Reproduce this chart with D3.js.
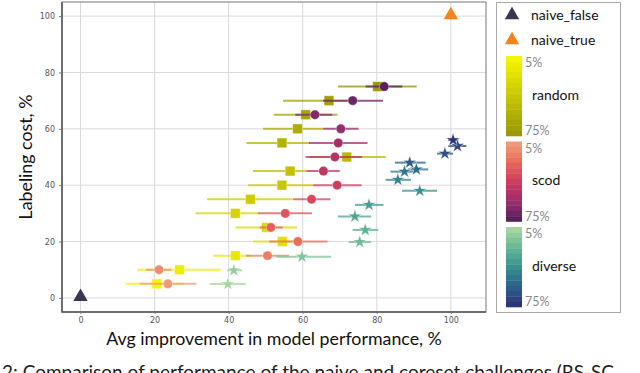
<!DOCTYPE html>
<html>
<head>
<meta charset="utf-8">
<script src="https://cdn.jsdelivr.net/npm/d3@7"></script>
<style>
  body { margin: 0; background: #fff; overflow: hidden; }
  text { font-family: Lato, 'Noto Sans', sans-serif; }
</style>
</head>
<body>
<div id="chart"></div>
<script>
// budget levels shared by the three strategies (% of data labeled)
const budgets = [5, 10, 15, 20, 25, 30, 35, 40, 45, 50, 55, 60, 65, 70, 75];

// random sampling: labeling cost equals budget
const randomMean = [20.6, 26.7, 41.8, 54.5, 50.2, 41.8, 45.9, 54.4, 56.6, 71.9, 54.4, 58.6, 60.8, 67.1, 80.2];
const randomLo = [12.2, 15.3, 35.9, 46.6, 41.9, 31.1, 34.2, 45.2, 46.6, 62.0, 44.8, 49.3, 52.2, 54.7, 69.5];
const randomHi = [28.0, 37.8, 46.1, 60.0, 58.5, 48.3, 57.3, 62.8, 61.0, 82.4, 61.9, 65.5, 69.4, 74.0, 90.8];

// scod
const scodMean = [23.6, 21.2, 50.5, 58.7, 51.4, 55.3, 62.4, 69.3, 65.6, 68.7, 69.6, 70.3, 63.3, 73.5, 82.0];
const scodLo = [16.0, 17.7, 44.7, 51.0, 48.4, 48.0, 57.4, 62.8, 61.0, 60.8, 61.7, 65.5, 58.0, 65.5, 77.0];
const scodHi = [31.3, 24.5, 56.3, 66.7, 54.6, 62.5, 67.5, 75.9, 70.0, 76.0, 77.5, 75.1, 68.0, 81.7, 86.9];

// diverse: labeling cost differs from budget
const diverseCost = [4.9, 9.8, 14.6, 19.8, 24.1, 28.9, 33.0, 38.0, 41.9, 44.8, 45.6, 48.0, 51.2, 53.9, 56.0];
const diverseMean = [39.8, 41.4, 59.8, 75.4, 76.9, 74.1, 77.9, 91.6, 85.7, 87.5, 90.7, 88.9, 98.4, 101.8, 100.6];
const diverseLo = [34.9, 39.6, 52.9, 72.4, 73.5, 69.5, 74.1, 86.8, 82.4, 83.7, 88.5, 84.9, 96.3, 99.3, 99.3];
const diverseHi = [44.6, 43.6, 67.7, 78.4, 80.4, 78.5, 81.8, 96.3, 89.2, 90.7, 93.9, 93.2, 100.6, 104.2, 102.0];

// naive baselines
const naiveNames = ['naive_false', 'naive_true'];
const naiveX = [0, 100];
const naiveY = [0, 100];

const xTicks = [0, 20, 40, 60, 80, 100];
const yTicks = [0, 20, 40, 60, 80, 100];

// colour ramps for each strategy
const randomColor = d3.scaleLinear().domain([5, 75]).range(['#f5f500', '#9a9806']);
const scodColor = d3.scaleLinear()
  .domain([5, 19, 33, 47, 61, 75])
  .range(['#ef9b7a', '#e9735d', '#dc4a5b', '#bd3462', '#932d6c', '#5a1f5d']);
const diverseColor = d3.scaleLinear()
  .domain([5, 19, 33, 47, 61, 75])
  .range(['#a3d69c', '#6fbd97', '#46a092', '#2f7f8d', '#2b5b86', '#2c3676']);
const naiveColor = ['#3b3550', '#f7821c'];

const width = 640;
const height = 373;
const plot = { left: 62, top: 2, right: 486, bottom: 312 };

const svg = d3.select('#chart')
  .append('svg')
    .attr('width', width)
    .attr('height', height);

const x = d3.scaleLinear().domain([-5, 109.5]).range([plot.left, plot.right]);
const y = d3.scaleLinear().domain([-5, 105]).range([plot.bottom, plot.top]);

// grid lines
svg.append('g')
  .selectAll('line')
  .data(xTicks)
  .join('line')
    .attr('x1', d => x(d)).attr('x2', d => x(d))
    .attr('y1', plot.top).attr('y2', plot.bottom)
    .attr('stroke', '#dadada').attr('stroke-width', 1);
svg.append('g')
  .selectAll('line')
  .data(yTicks)
  .join('line')
    .attr('y1', d => y(d)).attr('y2', d => y(d))
    .attr('x1', plot.left).attr('x2', plot.right)
    .attr('stroke', '#dadada').attr('stroke-width', 1);

// frame
svg.append('rect')
  .attr('x', plot.left).attr('y', plot.top)
  .attr('width', plot.right - plot.left).attr('height', plot.bottom - plot.top)
  .attr('fill', 'none').attr('stroke', '#777').attr('stroke-width', 1);
svg.append('path')
  .attr('d', `M${plot.left},${plot.top}V${plot.bottom}H${plot.right}`)
  .attr('fill', 'none').attr('stroke', '#555').attr('stroke-width', 1.5);

// axes (tick labels only)
const xAxis = svg.append('g')
  .attr('transform', `translate(0,${plot.bottom})`)
  .call(d3.axisBottom(x).tickValues(xTicks).tickSize(2).tickPadding(3));
const yAxis = svg.append('g')
  .attr('transform', `translate(${plot.left},0)`)
  .call(d3.axisLeft(y).tickValues(yTicks).tickSize(3).tickPadding(4));
[xAxis, yAxis].forEach(a => {
  a.select('.domain').remove();
  a.selectAll('line').attr('stroke', '#777');
  a.selectAll('text')
    .attr('fill', '#555')
    .style('font-size', '8px')
    .style('font-family', "'DejaVu Sans', sans-serif");
});

// axis titles
svg.append('text')
  .attr('x', (plot.left + plot.right) / 2)
  .attr('y', 345)
  .attr('text-anchor', 'middle')
  .style('font-size', '17.8px')
  .attr('fill', '#111')
  .text('Avg improvement in model performance, %');
svg.append('text')
  .attr('transform', `translate(32,${(plot.top + plot.bottom) / 2}) rotate(-90)`)
  .attr('text-anchor', 'middle')
  .style('font-size', '17.8px')
  .attr('fill', '#111')
  .text('Labeling cost, %');

// build rows for each series
const randomRows = budgets.map((b, i) => ({ b, cost: b, m: randomMean[i], lo: randomLo[i], hi: randomHi[i] }));
const scodRows = budgets.map((b, i) => ({ b, cost: b, m: scodMean[i], lo: scodLo[i], hi: scodHi[i] }));
const diverseRows = budgets.map((b, i) => ({ b, cost: diverseCost[i], m: diverseMean[i], lo: diverseLo[i], hi: diverseHi[i] }));

const series = [
  { rows: randomRows, color: randomColor, symbol: d3.symbolSquare, size: 95 },
  { rows: scodRows, color: scodColor, symbol: d3.symbolCircle, size: 70 },
  { rows: diverseRows, color: diverseColor, symbol: d3.symbolStar, size: 55 }
];

// error bars then markers, series by series
series.forEach(s => {
  svg.append('g')
    .selectAll('line')
    .data(s.rows)
    .join('line')
      .attr('x1', d => x(d.lo)).attr('x2', d => x(d.hi))
      .attr('y1', d => y(d.cost)).attr('y2', d => y(d.cost))
      .attr('stroke', d => s.color(d.b))
      .attr('stroke-width', 2)
      .attr('opacity', 0.75);
  svg.append('g')
    .selectAll('path')
    .data(s.rows)
    .join('path')
      .attr('transform', d => `translate(${x(d.m)},${y(d.cost)})`)
      .attr('d', d3.symbol().type(s.symbol).size(s.size))
      .attr('fill', d => s.color(d.b))
      .attr('stroke', '#fff')
      .attr('stroke-width', 0.4);
});

// naive triangles
svg.append('g')
  .selectAll('path')
  .data(naiveNames)
  .join('path')
    .attr('transform', (d, i) => `translate(${x(naiveX[i])},${y(naiveY[i]) - 1})`)
    .attr('d', d3.symbol().type(d3.symbolTriangle).size(90))
    .attr('fill', (d, i) => naiveColor[i]);

// legend
const legend = svg.append('g');
legend.append('rect')
  .attr('x', 496.5).attr('y', 2.5)
  .attr('width', 124).attr('height', 310)
  .attr('fill', '#fff').attr('stroke', '#aaa').attr('stroke-width', 1);

naiveNames.forEach((name, i) => {
  const ly = 15 + i * 25;
  legend.append('path')
    .attr('transform', `translate(512,${ly})`)
    .attr('d', d3.symbol().type(d3.symbolTriangle).size(90))
    .attr('fill', naiveColor[i]);
  legend.append('text')
    .attr('x', 531).attr('y', ly)
    .attr('dy', '0.35em')
    .style('font-size', '14px')
    .attr('fill', '#111')
    .text(name);
});

// colour bars for the budgeted strategies
const bars = [
  { name: 'random', color: randomColor, top: 56 },
  { name: 'scod', color: scodColor, top: 141.5 },
  { name: 'diverse', color: diverseColor, top: 227 }
];
const barH = 80;
const bandH = barH / budgets.length;
bars.forEach(bar => {
  legend.append('g')
    .selectAll('rect')
    .data(budgets)
    .join('rect')
      .attr('x', 506).attr('y', (d, i) => bar.top + i * bandH)
      .attr('width', 16).attr('height', bandH + 0.3)
      .attr('fill', d => bar.color(d));
  legend.append('text')
    .attr('x', 525).attr('y', bar.top + 7)
    .attr('dy', '0.35em')
    .style('font-size', '12.5px')
    .attr('fill', '#888')
    .text('5%');
  legend.append('text')
    .attr('x', 525).attr('y', bar.top + barH - 5)
    .attr('dy', '0.35em')
    .style('font-size', '12.5px')
    .attr('fill', '#888')
    .text('75%');
  legend.append('text')
    .attr('x', 532).attr('y', bar.top + 39)
    .attr('dy', '0.35em')
    .style('font-size', '14px')
    .attr('fill', '#111')
    .text(bar.name);
});

// caption of the paper, cut off by the page edge as in the source image
svg.append('text')
  .attr('x', 2).attr('y', 379)
  .style('font-size', '19px')
  .attr('fill', '#222')
  .text('2: Comparison of performance of the naive and coreset challenges (RS-SC');
</script>
</body>
</html>
